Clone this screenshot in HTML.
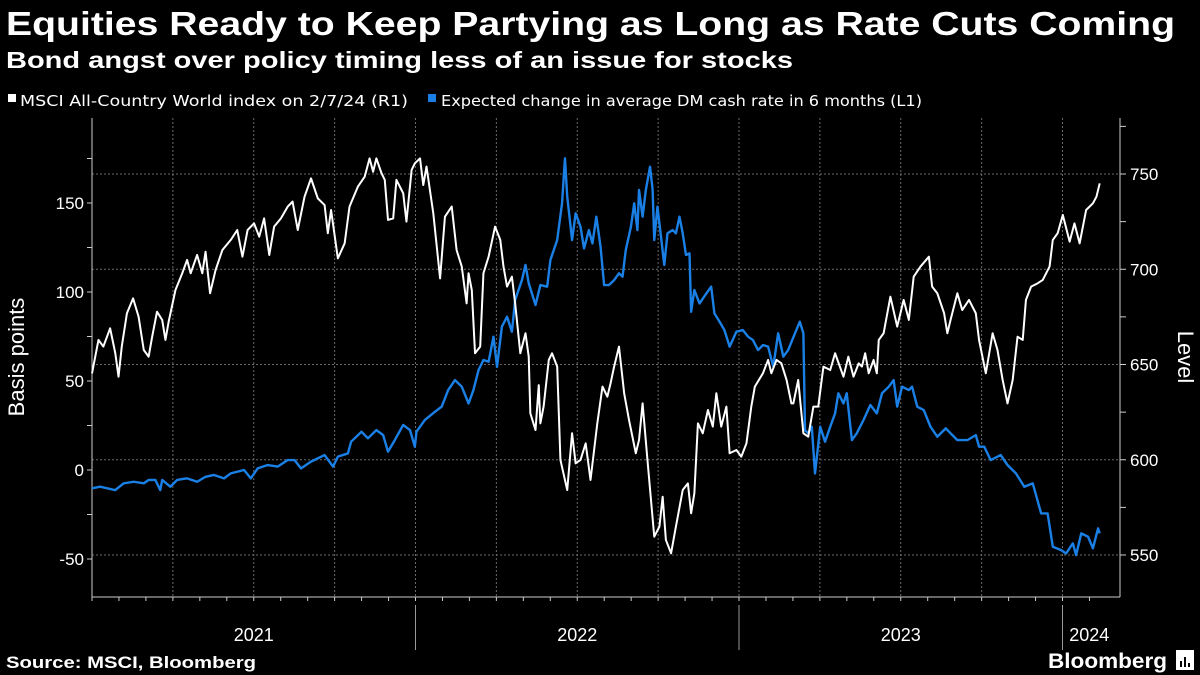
<!DOCTYPE html>
<html><head><meta charset="utf-8"><style>
body{margin:0;background:#000;width:1200px;height:675px;overflow:hidden;font-family:"Liberation Sans",sans-serif;color:#fff}
svg{position:absolute;left:0;top:0}
</style></head><body>
<svg id="c" width="1200" height="675">
<text x="6" y="35" font-size="33" font-weight="bold" fill="#fff" textLength="1169" lengthAdjust="spacingAndGlyphs">Equities Ready to Keep Partying as Long as Rate Cuts Coming</text>
<text x="6" y="68" font-size="23" font-weight="bold" fill="#fff" textLength="787" lengthAdjust="spacingAndGlyphs">Bond angst over policy timing less of an issue for stocks</text>
<g font-size="15" fill="#fff" font-family="DejaVu Sans, sans-serif">
<rect x="8" y="94" width="8" height="8" fill="#fff"/>
<text x="20" y="106" textLength="388" lengthAdjust="spacingAndGlyphs">MSCI All-Country World index  on 2/7/24 (R1)</text>
<rect x="428" y="94" width="8" height="8" fill="#1a80e6"/>
<text x="441" y="106" textLength="481" lengthAdjust="spacingAndGlyphs">Expected change in average DM cash rate in 6 months (L1)</text>
</g>
<g id="grid"></g>
<g id="axes"></g>
<g id="series"></g>
<text x="0" y="0" transform="translate(24,357) rotate(-90)" text-anchor="middle" font-size="22" fill="#fff">Basis points</text>
<text x="0" y="0" transform="translate(1178,357) rotate(90)" text-anchor="middle" font-size="22" fill="#fff">Level</text>
<text x="6" y="668" font-size="17" font-weight="bold" fill="#fff" textLength="250" lengthAdjust="spacingAndGlyphs">Source: MSCI, Bloomberg</text>
<text x="1048" y="668" font-size="21" font-weight="bold" fill="#fff" textLength="119" lengthAdjust="spacingAndGlyphs">Bloomberg</text>
<g>
<rect x="1176" y="650" width="18" height="20" fill="#fff"/>
<rect x="1180" y="661" width="2" height="6" fill="#000"/><rect x="1184" y="657" width="2" height="10" fill="#000"/><rect x="1188" y="663" width="2" height="4" fill="#000"/>
</g>
</svg>
<script>
const leftTicks=[-50,0,50,100,150];
const rightTicks=[550,600,650,700,750];
const yearLabels=["2021","2022","2023","2024"];
const yearStarts=[2021,2022,2023,2024];
const msciT=[0,.020,.035,.056,.072,.082,.092,.108,.127,.144,.160,.175,.186,.201,.217,.227,.237,.258,.279,.294,.305,.325,.341,.351,.365,.382,.403,.429,.449,.465,.481,.501,.517,.532,.548,.563,.584,.605,.620,.636,.657,.677,.698,.719,.729,.739,.760,.781,.796,.822,.843,.858,.869,.879,.895,.905,.915,.931,.941,.962,.972,.988,.998,1.014,1.024,1.034,1.055,1.076,1.091,1.112,1.127,1.143,1.158,1.164,1.174,1.184,1.200,1.210,1.226,1.246,1.262,1.272,1.283,1.298,1.308,1.324,1.340,1.350,1.355,1.371,1.381,1.386,1.396,1.412,1.422,1.438,1.448,1.469,1.484,1.495,1.510,1.526,1.541,1.562,1.578,1.593,1.603,1.614,1.629,1.645,1.660,1.681,1.691,1.702,1.717,1.738,1.754,1.764,1.774,1.790,1.805,1.826,1.842,1.852,1.862,1.873,1.888,1.904,1.919,1.930,1.945,1.961,1.971,1.992,2.007,2.023,2.038,2.049,2.074,2.090,2.100,2.116,2.131,2.147,2.162,2.168,2.183,2.199,2.214,2.230,2.245,2.261,2.282,2.297,2.323,2.338,2.354,2.370,2.380,2.390,2.401,2.416,2.426,2.432,2.447,2.468,2.489,2.509,2.525,2.540,2.561,2.587,2.597,2.613,2.634,2.644,2.654,2.675,2.690,2.711,2.732,2.742,2.763,2.784,2.799,2.815,2.830,2.846,2.861,2.877,2.887,2.903,2.923,2.939,2.960,2.970,2.985,3.001,3.022,3.037,3.053,3.073,3.094,3.105,3.115];
const msciV=[645.3,662.9,659.4,669.0,655.9,643.6,659.4,676.9,684.7,675.1,657.6,654.1,664.6,677.7,673.4,662.9,672.5,689.1,697.9,704.9,697.9,707.5,697.9,709.2,687.4,699.6,710.1,715.4,720.6,706.6,720.6,724.1,717.1,726.7,707.5,722.4,726.7,732.9,735.5,720.6,738.1,747.7,737.2,733.7,718.9,731.1,705.7,713.6,732.9,743.4,748.6,758.2,751.2,758.2,750.4,746.9,725.9,726.7,746.9,739.9,725.0,752.1,755.6,758.2,744.2,753.9,729.4,695.2,727.6,732.9,710.1,701.4,682.1,697.9,689.1,655.9,659.4,697.9,706.6,722.4,715.4,701.4,690.9,696.1,682.1,655.9,666.4,654.1,624.4,615.6,639.2,619.1,627.9,652.4,655.9,648.9,599.9,584.1,613.9,598.1,599.9,608.6,589.4,619.1,638.4,633.1,640.1,648.9,659.4,634.9,620.9,603.4,610.4,629.6,599.9,559.6,564.9,580.6,557.9,550.9,564.9,584.1,587.6,571.9,582.4,619.1,613.9,626.1,617.4,634.9,617.4,627.9,603.4,605.1,601.6,608.6,627.9,638.4,645.4,652.4,645.4,652.4,650.6,641.9,629.6,629.6,641.9,613.9,612.1,627.9,627.9,648.9,647.1,655.9,643.6,654.1,643.6,650.6,648.9,655.9,645.4,652.4,645.4,662.9,666.4,685.6,669.9,683.9,673.4,696.1,701.4,706.6,690.9,687.4,676.9,666.4,673.4,687.4,678.6,683.9,676.9,662.9,645.4,666.4,657.6,641.9,629.6,641.9,664.6,662.9,683.9,690.9,692.6,694.4,701.4,715.4,718.9,728.5,714.5,724.1,713.6,731.1,734.6,738.1,745.1];
const rateT=[0,.025,.072,.098,.129,.160,.175,.196,.211,.217,.242,.263,.294,.325,.351,.377,.408,.429,.470,.491,.512,.543,.574,.605,.626,.646,.677,.719,.745,.760,.791,.801,.833,.853,.879,.900,.915,.936,.962,.983,.998,1.003,1.029,1.060,1.081,1.101,1.122,1.143,1.164,1.179,1.195,1.210,1.226,1.241,1.252,1.267,1.283,1.298,1.308,1.329,1.340,1.350,1.371,1.386,1.407,1.417,1.438,1.453,1.462,1.469,1.484,1.495,1.510,1.521,1.536,1.547,1.559,1.572,1.583,1.598,1.614,1.629,1.640,1.650,1.666,1.676,1.686,1.691,1.702,1.712,1.725,1.733,1.738,1.748,1.769,1.779,1.795,1.805,1.816,1.826,1.836,1.847,1.852,1.862,1.878,1.899,1.914,1.924,1.940,1.955,1.971,1.992,2.012,2.028,2.043,2.059,2.074,2.090,2.106,2.121,2.137,2.152,2.173,2.188,2.199,2.204,2.214,2.225,2.235,2.251,2.266,2.282,2.297,2.307,2.323,2.333,2.349,2.364,2.385,2.406,2.426,2.442,2.463,2.478,2.489,2.504,2.525,2.535,2.551,2.571,2.592,2.613,2.639,2.654,2.675,2.706,2.732,2.742,2.758,2.778,2.809,2.830,2.856,2.882,2.908,2.934,2.954,2.970,2.996,3.011,3.032,3.042,3.058,3.079,3.094,3.110,3.115];
const rateV=[-10.3,-9.4,-11.3,-7.5,-6.6,-7.5,-5.6,-5.6,-11.3,-5.6,-9.4,-5.6,-4.7,-6.6,-3.8,-2.8,-4.7,-1.9,0,-4.7,0.9,2.8,1.9,5.6,5.6,0.9,4.7,8.4,1.9,7.5,9.3,15.9,21.5,17.8,22.4,19.6,10.3,16.8,25.3,22.4,13.1,21.5,28.1,32.7,35.6,44.9,50.5,46.8,37.4,44.9,56.2,61.8,60.8,74.9,58.0,80.5,86.1,77.7,95.5,106.7,115.2,104.9,92.7,103.9,103.0,118.0,129.2,149.8,175.1,153.6,129.2,144.2,136.7,124.5,134.8,127.3,142.3,125.5,103.9,103.9,106.7,110.5,108.6,123.6,136.7,149.8,134.8,157.3,142.3,157.3,170.4,157.3,129.2,147.9,115.2,133.0,134.8,133.0,142.3,133.0,120.8,121.7,88.9,101.1,93.6,99.2,103.0,88.0,83.3,78.6,69.3,77.7,78.6,74.9,73.0,67.4,70.2,69.3,58.0,76.8,63.7,67.4,76.8,83.3,76.8,22.4,20.6,24.3,-1.9,24.3,15.9,24.3,31.8,43.1,37.4,43.1,16.8,20.6,28.1,36.5,31.8,43.1,46.8,50.5,35.6,46.8,44.9,46.8,35.6,33.7,24.3,18.7,23.4,20.6,16.8,16.8,19.6,13.1,13.1,5.6,8.4,2.8,-1.9,-9.4,-7.5,-24.4,-24.4,-43.1,-45.0,-46.9,-41.2,-47.8,-35.6,-37.5,-44.0,-32.8,-35.6];

const NS="http://www.w3.org/2000/svg";
const X0=92,X1=1120,YT=118,YB=597;
const xS=t=>X0+t*323.5;
const yL=v=>470-v*1.78;
const yR=v=>174+(750-v)*1.905;
function mk(tag,attrs,parent){const e=document.createElementNS(NS,tag);for(const k in attrs)e.setAttribute(k,attrs[k]);parent.appendChild(e);return e;}
const grid=document.getElementById('grid'),axes=document.getElementById('axes'),ser=document.getElementById('series');
rightTicks.forEach(v=>{const l=mk('line',{x1:X0,x2:X1,y1:yR(v),y2:yR(v),stroke:'#6a6a6a','stroke-width':1,'stroke-dasharray':'2,2'},grid);

});
for(let q=1;q<=12;q++){const x=xS(q/4);const l=mk('line',{x1:x,x2:x,y1:YT,y2:YB,stroke:'#6a6a6a','stroke-width':1,'stroke-dasharray':'2,2'},grid);

}
const al=mk('line',{x1:X0,x2:X0,y1:YT,y2:YB,stroke:'#ccc','stroke-width':1},axes);


const ar=mk('line',{x1:X1,x2:X1,y1:YT,y2:YB,stroke:'#ccc','stroke-width':1},axes);


const ab=mk('line',{x1:X0,x2:X1,y1:YB,y2:YB,stroke:'#ccc','stroke-width':1},axes);


for(let v=-75;v<=175;v+=25){const y=yL(v);if(y<YT||y>YB)continue;mk('line',{x1:X0-5,x2:X0,y1:y,y2:y,stroke:'#ccc'},axes);}
for(let v=525;v<=775;v+=25){const y=yR(v);if(y<YT||y>YB)continue;mk('line',{x1:X1,x2:X1+6,y1:y,y2:y,stroke:'#ccc'},axes);}
leftTicks.forEach(v=>{const t=mk('text',{x:X0-8,y:yL(v)+6,'text-anchor':'end','font-size':17,fill:'#fff'},axes);t.textContent=v;

});
rightTicks.forEach(v=>{const t=mk('text',{x:X1+10,y:yR(v)+6,'font-size':17,fill:'#fff'},axes);t.textContent=v;

});
for(let m=0;m<=37;m++){const x=xS(m/12);if(x>X1)break;mk('line',{x1:x,x2:x,y1:YB,y2:YB+4,stroke:'#ccc'},axes);}
yearStarts.forEach((yr,i)=>{const t0=yr-2021;const xa=xS(t0);const xb=Math.min(xS(t0+1),X1);
if(i>0)mk('line',{x1:xa,x2:xa,y1:YB+8,y2:650,stroke:'#999'},axes);
const t=mk('text',{x:(xa+xb)/2+(i==3?-2:0),y:641,'text-anchor':'middle','font-size':18,fill:'#fff'},axes);t.textContent=yearLabels[i];

});
const pb=mk('polyline',{points:rateT.map((t,i)=>xS(t)+','+yL(rateV[i])).join(' '),fill:'none',stroke:'#1a80e6','stroke-width':2.4,'stroke-linejoin':'round'},ser);


const pw=mk('polyline',{points:msciT.map((t,i)=>xS(t)+','+yR(msciV[i])).join(' '),fill:'none',stroke:'#fff','stroke-width':2,'stroke-linejoin':'round'},ser);


</script>
</body></html>
